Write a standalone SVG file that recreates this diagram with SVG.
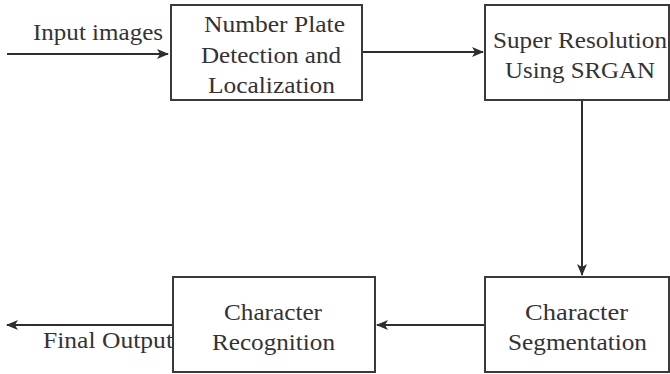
<svg xmlns="http://www.w3.org/2000/svg" width="670" height="374" viewBox="0 0 670 374">
<defs>
<style>
.box{fill:#fff;stroke:#3a3a3a;stroke-width:2}
.edge{fill:none;stroke:#2e2e2e;stroke-width:2}
text{font-family:"Liberation Serif","Times New Roman",serif;font-size:24px;fill:#333}
</style>
<marker id="ah" viewBox="0 0 12 10" markerWidth="12" markerHeight="10" refX="11" refY="5" orient="auto" markerUnits="userSpaceOnUse">
<path d="M0,0 L12,5 L0,10 L3,5 z" fill="#2e2e2e"/>
</marker>
</defs>
<rect width="670" height="374" fill="#fff"/>
<g id="connectors">
<line class="edge" x1="7" y1="54" x2="168" y2="54" marker-end="url(#ah)"/>
<line class="edge" x1="362" y1="52" x2="483" y2="52" marker-end="url(#ah)"/>
<line class="edge" x1="582" y1="100" x2="582" y2="275" marker-end="url(#ah)"/>
<line class="edge" x1="484" y1="325" x2="377" y2="325" marker-end="url(#ah)"/>
<line class="edge" x1="173" y1="325" x2="7" y2="325" marker-end="url(#ah)"/>
<text x="33" y="40" textLength="130" lengthAdjust="spacingAndGlyphs">Input images</text>
<text x="43" y="348" textLength="130" lengthAdjust="spacingAndGlyphs">Final Output</text>
</g>
<g id="n1">
<rect class="box" x="171" y="5" width="191" height="95"/>
<text x="204" y="32" textLength="141" lengthAdjust="spacingAndGlyphs">Number Plate</text>
<text x="201" y="63" textLength="140" lengthAdjust="spacingAndGlyphs">Detection and</text>
<text x="208" y="93" textLength="127" lengthAdjust="spacingAndGlyphs">Localization</text>
</g>
<g id="n2">
<rect class="box" x="485" y="5" width="184" height="95"/>
<text x="493" y="48" textLength="174" lengthAdjust="spacingAndGlyphs">Super Resolution</text>
<text x="505" y="78" textLength="150" lengthAdjust="spacingAndGlyphs">Using SRGAN</text>
</g>
<g id="n3">
<rect class="box" x="485" y="277" width="184" height="95"/>
<text x="525" y="320" textLength="103" lengthAdjust="spacingAndGlyphs">Character</text>
<text x="508" y="350" textLength="139" lengthAdjust="spacingAndGlyphs">Segmentation</text>
</g>
<g id="n4">
<rect class="box" x="173" y="277" width="202" height="95"/>
<text x="224" y="320" textLength="98" lengthAdjust="spacingAndGlyphs">Character</text>
<text x="212" y="350" textLength="123" lengthAdjust="spacingAndGlyphs">Recognition</text>
</g>
</svg>
